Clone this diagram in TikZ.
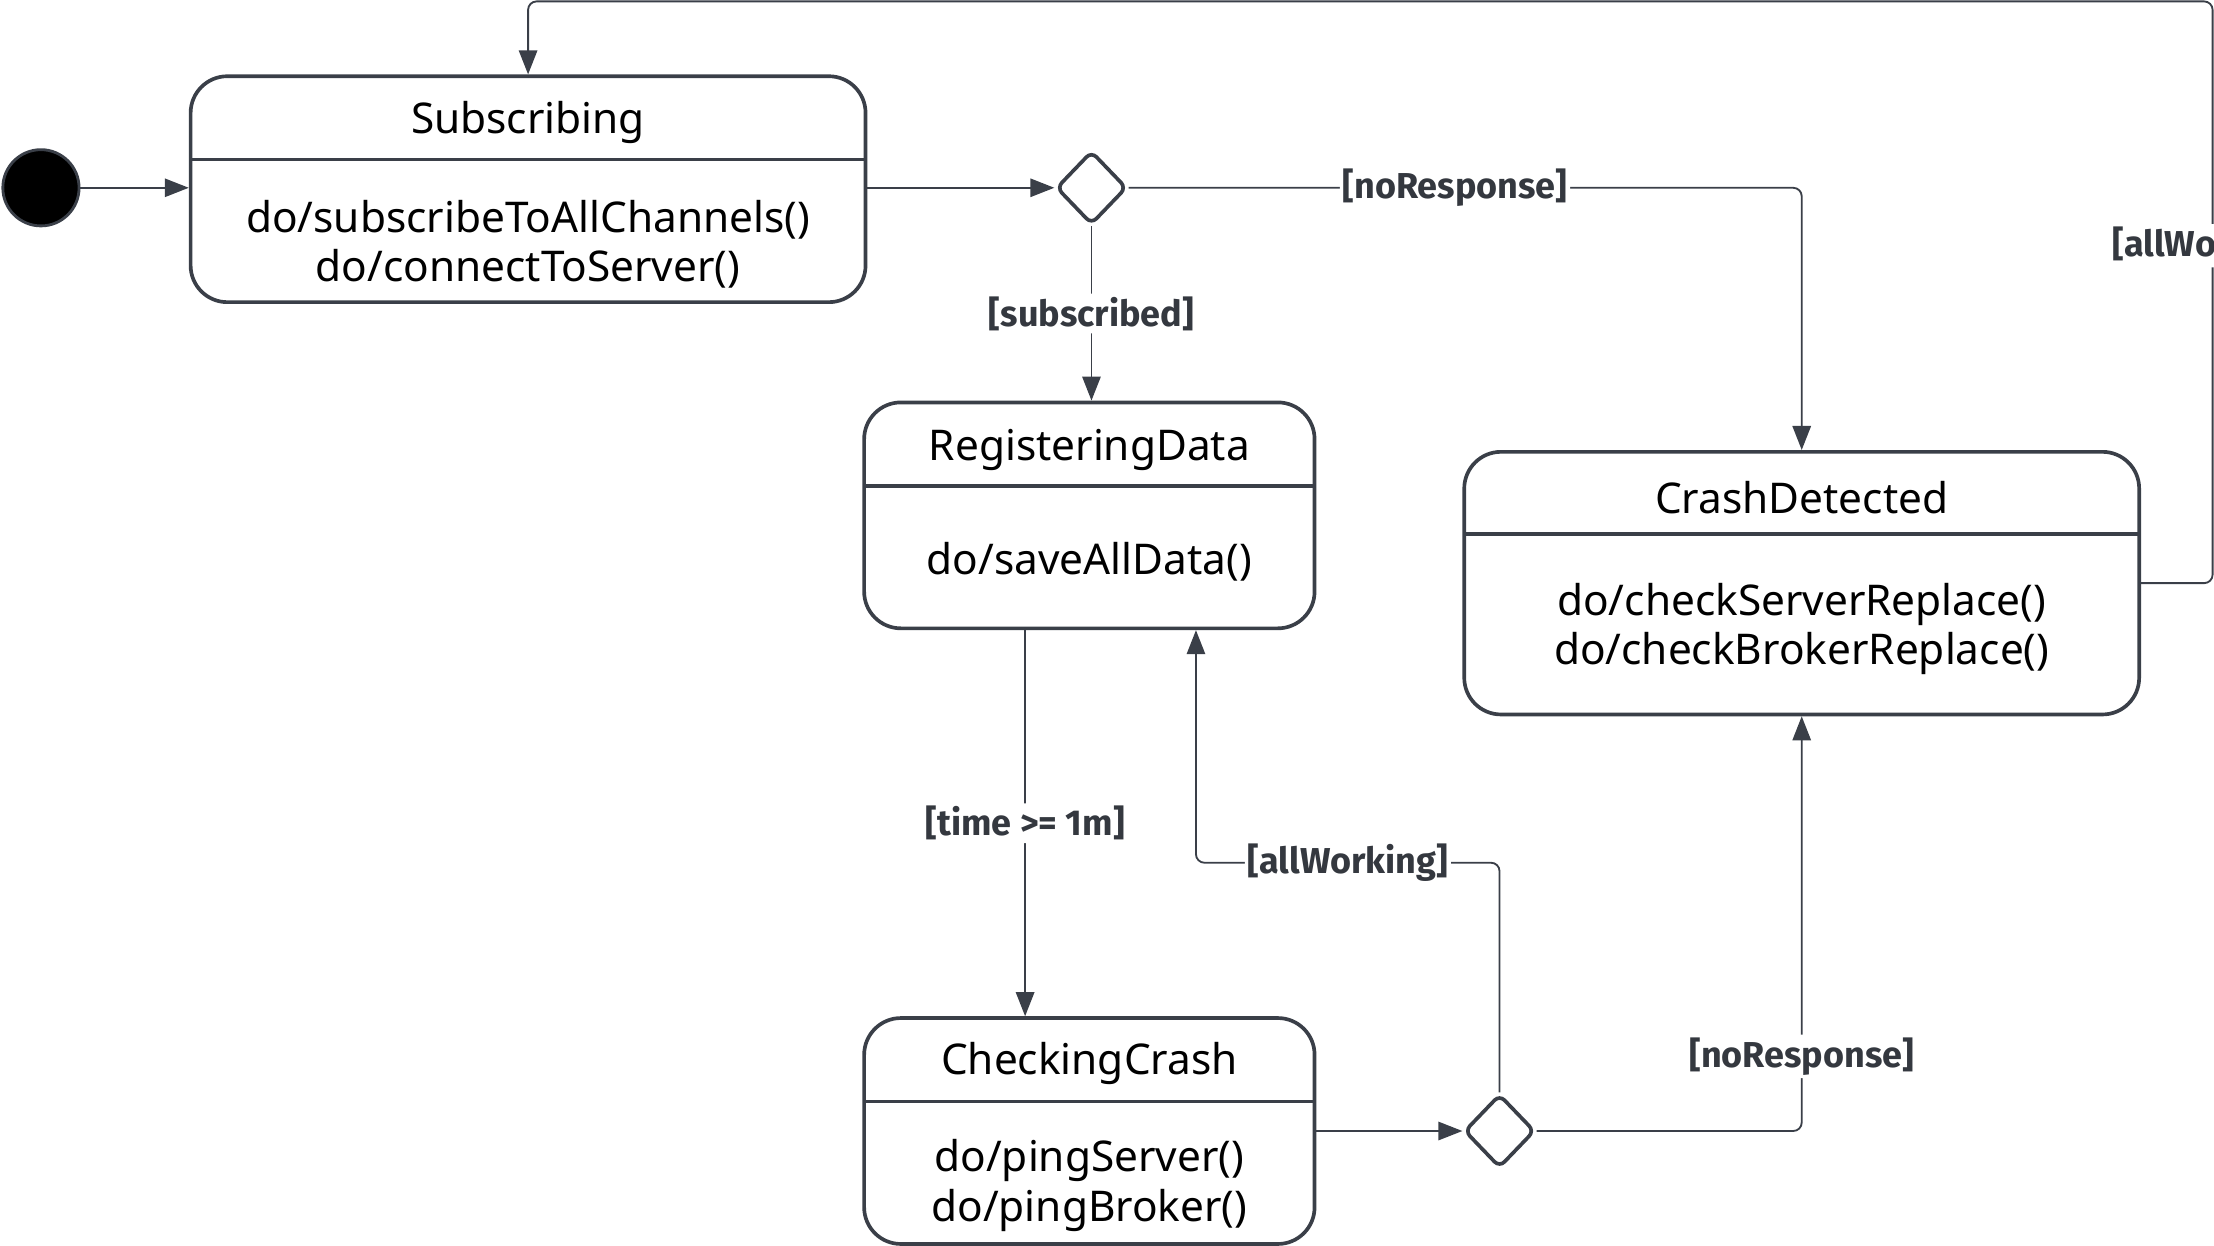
\documentclass[tikz,border=0pt]{standalone}
\usepackage{fontspec}
\setmainfont{Noto Sans}
\newfontfamily\guardfont{Fira Sans}
\usetikzlibrary{arrows.meta,shapes.geometric}
\definecolor{edge}{HTML}{3A3F48}
\definecolor{lbl}{HTML}{34383F}

\begin{document}
\begin{tikzpicture}[x=1pt,y=-1pt,
  state/.style={draw=edge,line width=2.6pt,rounded corners=26pt,fill=white,inner sep=0pt},
  divider/.style={draw=edge,line width=2.6pt},
  title/.style={font=\fontsize{30}{35}\selectfont,text=black,inner sep=0pt},
  body/.style={font=\fontsize{30}{35}\selectfont,text=black,align=center,inner sep=0pt},
  guard/.style={font=\guardfont\fontsize{25.5}{30}\selectfont\bfseries,text=lbl,fill=white,inner sep=2pt},
  flow/.style={draw=edge,line width=1.3pt,rounded corners=6pt,
    -{Triangle[length=17pt,width=13pt]}},
  choice/.style={draw=edge,line width=2.6pt,diamond,minimum width=50pt,minimum height=52pt,
    rounded corners=5pt,inner sep=0pt,fill=white}
]
\useasboundingbox (0,0) rectangle (1568,882);
\clip (0,0) rectangle (1568,882);

% initial pseudo-state
\node[circle,fill=black,draw=edge,line width=2pt,minimum size=54pt,inner sep=0pt] (init) at (29,133) {};

% states
\node[state,minimum width=478pt,minimum height=160pt] (sub) at (374,134) {};
\draw[divider] (135,113) -- (613,113);
\node[title] (subT) at (374,86.5) {Subscribing};
\node[body] (subB) at (374,173) {do/subscribeToAllChannels()\\do/connectToServer()};

\node[state,minimum width=319pt,minimum height=160pt] (reg) at (771.5,365) {};
\draw[divider] (612,344) -- (931,344);
\node[title] (regT) at (771.5,318.5) {RegisteringData};
\node[body] (regB) at (771.5,397.5) {do/saveAllData()};

\node[state,minimum width=478pt,minimum height=186pt] (crash) at (1276,413) {};
\draw[divider] (1037,378) -- (1515,378);
\node[title] (crashT) at (1276,352.5) {CrashDetected};
\node[body] (crashB) at (1276,445.5) {do/checkServerReplace()\\do/checkBrokerReplace()};

\node[state,minimum width=319pt,minimum height=160pt] (check) at (771.5,801) {};
\draw[divider] (612,780) -- (931,780);
\node[title] (checkT) at (771.5,753.5) {CheckingCrash};
\node[body] (checkB) at (771.5,839.5) {do/pingServer()\\do/pingBroker()};

% choice points
\node[choice] (d1) at (773,133) {};
\node[choice] (d2) at (1062,801) {};

% helper coordinates for bends
\coordinate (tm) at (726,0);
\coordinate (aw) at (847,611);
\coordinate (rt) at (1567,1);

% transitions
\draw[flow] (init) -- (init -| sub.west);
\draw[flow] (sub.east |- d1) -- (d1.west);
\draw[flow] (d1.south) -- node[guard]{[subscribed]} (reg.north -| d1);
\draw[flow] (d1.east) -- node[guard,pos=0.485]{[noResponse]} (crash.north |- d1) -- (crash.north);
\draw[flow] (reg.south -| tm) -- node[guard]{[time >= 1m]} (check.north -| tm);
\draw[flow] (d2.north) -- (d2.north |- aw) -- node[guard]{[allWorking]} (aw) -- (reg.south -| aw);
\draw[flow] (check.east |- d2) -- (d2.west);
\draw[flow] (d2.east) -- (crash.south |- d2) -- node[guard,pos=0.18]{[noResponse]} (crash.south);
\draw[flow] (crash.east) -- (crash.east -| rt) -- node[guard,pos=0.58]{[allWorking]} (rt)
  -- (rt -| sub.north) -- (sub.north);
\end{tikzpicture}
\end{document}
